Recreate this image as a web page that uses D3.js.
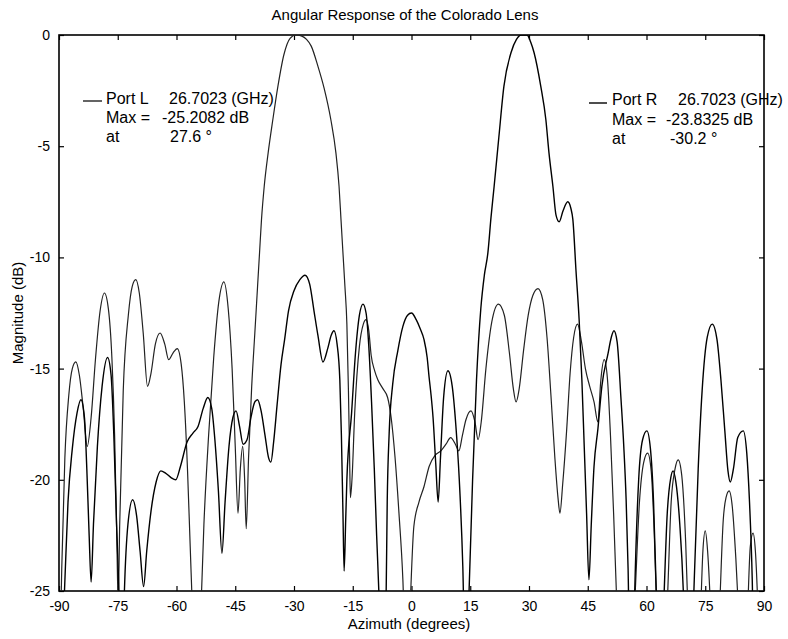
<!DOCTYPE html>
<html><head><meta charset="utf-8">
<script src="https://cdn.jsdelivr.net/npm/d3@7"></script>
<style>
body{margin:0;background:#fff}
svg text{font-family:"Liberation Sans",Arial,Helvetica,sans-serif;fill:#000}
</style>
</head><body>
<svg id="chart" width="788" height="639"></svg>
<script>
// ---------- data ----------
const chartTitle = "Angular Response of the Colorado Lens";
const xLabel = "Azimuth (degrees)";
const yLabel = "Magnitude (dB)";
const xTickValues = [-90, -75, -60, -45, -30, -15, 0, 15, 30, 45, 60, 75, 90];
const yTickValues = [0, -5, -10, -15, -20, -25];

const portLAz = [-90,-89.3,-88.5,-87.5,-86.6,-85.7,-84.8,-83.8,-82.8,-81.8,-80.7,-79.5,-78.4,-77.4,-76.5,-75.8,-75.2,-74.9,-74.5,-73.6,-72.3,-71.3,-70.4,-69.5,-68.5,-67.4,-66.5,-65.4,-64.2,-63,-62,-60.9,-59.8,-58.8,-58,-57.2,-56.5,-55.8,-55,-54,-53,-51.8,-50.5,-49.2,-47.9,-46.8,-45.8,-45,-44.3,-43.7,-43.1,-42.6,-42.2,-41.6,-40.8,-40,-39.3,-38.8,-38.3,-37.6,-36.6,-35.4,-34.1,-32.6,-31,-29.5,-28,-26.8,-25.6,-23.9,-22.3,-20.6,-19.3,-18.5,-18,-17.5,-17,-16.5,-16.1,-15.8,-15.6,-15.2,-14.5,-13.3,-12.3,-11.6,-10.9,-10.3,-9.4,-8.6,-7.3,-6.1,-5.2,-4.2,-3.2,-2.2,-1.2,-0.3,0.6,1.9,3.2,4.5,6,7.5,8.8,10,11.2,12.1,13,13.9,15.2,16.2,17,17.8,19,20.5,22.2,23.7,25,26,26.7,27.5,28.6,29.8,31,32.3,33.5,34.6,35.6,36.6,37.4,37.9,38.6,39.6,40.5,41.4,42.4,43.4,44.4,45.5,46.6,47.6,48.3,49.2,50,50.8,51.6,52.3,53.2,55.5,57,58.2,59.3,60.3,61.2,62,62.8,63.6,65.2,66.3,67.3,68.1,69,70,70.8,72,73.8,74.4,75,75.6,76.4,77.2,78.6,79.6,80.3,81.1,81.9,82.8,83.8,84.8,85.8,86.5,87.2,87.8,88.5,89.2,90];
const portLdB = [-30,-24,-19,-16.2,-15,-14.7,-15.3,-16.8,-18.5,-17.2,-14.6,-12.4,-11.6,-12.3,-14.5,-18,-23,-25.5,-22,-16,-12.6,-11.3,-11,-11.6,-13.4,-15.8,-15.2,-13.9,-13.4,-13.9,-14.6,-14.3,-14.1,-14.8,-16.5,-19.5,-23,-26.5,-30,-27,-22,-18,-14.5,-12,-11.1,-12.3,-15,-18.5,-21.5,-19.5,-18.5,-20,-22.2,-19,-15.8,-13.4,-11.3,-9.8,-8.3,-6.8,-5.3,-3.8,-2.3,-0.9,-0.15,0,-0.05,-0.2,-0.5,-1.4,-2.4,-3.8,-5.3,-6.8,-8.3,-9.8,-11.3,-13,-16,-19,-20.8,-20,-17,-14,-13,-12.8,-13.3,-14.4,-15.1,-15.5,-15.9,-16.3,-17.2,-19,-21.5,-24.5,-30,-25.5,-22.1,-21,-20.3,-19.4,-18.9,-18.7,-18.4,-18.1,-18.4,-18.7,-18,-17.3,-16.9,-17.4,-18.2,-17.4,-15,-12.9,-12.1,-12.6,-14.3,-15.9,-16.5,-15.9,-14.2,-12.6,-11.7,-11.4,-11.9,-13.6,-16.2,-19,-20.8,-21.5,-20.2,-17.8,-15.2,-13.6,-13,-13.8,-15,-15.8,-16.5,-17.4,-15.6,-14.6,-15.4,-18,-21.5,-25,-30,-30,-25.5,-21,-19.2,-18.8,-19.6,-22.5,-27,-30,-26,-21,-19.5,-19.1,-19.8,-22.8,-27,-30,-26,-23.2,-22.3,-23.2,-26,-30,-26,-21.8,-20.8,-20.5,-21.2,-23.5,-27,-30,-26,-23,-22.4,-23.2,-26,-30,-30];

const portRAz = [-90,-88.6,-87.7,-86.6,-85.4,-84.4,-83.5,-82.9,-82.3,-81.8,-81.2,-80.2,-79,-77.6,-76.7,-76,-75.3,-74.6,-74,-73.3,-72.4,-71.2,-70.2,-69.3,-68.4,-67.6,-66.5,-65.2,-64,-62.8,-61.4,-60.2,-59,-57.3,-55.8,-54.5,-53.2,-52,-51,-50.2,-49.3,-48.4,-47.6,-46.6,-45.6,-44.8,-43.9,-43,-42,-41,-40,-39.3,-38.4,-37.4,-36.5,-35.9,-35.2,-34.3,-33.3,-32.4,-31.4,-30,-28.5,-27.2,-26,-24.9,-23.9,-22.6,-21.4,-20.5,-19.8,-19,-18.3,-17.9,-17.5,-17.2,-16.8,-16.5,-15.3,-14.3,-13.3,-12.4,-11.6,-10.9,-10.2,-9.5,-8.9,-8.3,-7.5,-6.5,-6.2,-5.7,-4.8,-3.5,-2.2,-1,0,1.2,2.2,3.2,4,4.5,5,5.5,6.2,6.8,7.4,8.2,9.3,10.4,11.3,12.2,13.1,13.9,14.7,15.6,16.6,17.7,18.6,19.5,20.3,21.1,22.3,23.6,25.4,26.8,28,29.5,30.4,31.3,33,34.3,35.1,36.1,36.9,37.7,38.7,39.9,40.7,41.2,42,42.8,43.5,44.1,44.7,45.3,45.9,46.6,47.6,48.6,50.2,51,51.7,52.5,53.5,54.2,54.8,55.3,55.9,56.4,57,58,59,60.1,61,61.8,62.5,63.2,64.3,65.3,66.2,66.8,67.5,68.5,69.4,70.2,71.2,72.1,73.2,74.2,75.5,76.8,78,79,80,80.8,81.4,82.2,83.3,84.7,85.6,86.3,87,87.6,88.5,89.2,90];
const portRdB = [-30,-25,-21,-18.6,-17,-16.4,-17.2,-19.5,-22.5,-24.6,-22,-18.5,-15.8,-14.5,-15.3,-18,-22,-25.5,-30,-25,-22,-20.9,-21.6,-23.2,-24.8,-23.2,-21.4,-20.1,-19.6,-19.7,-19.9,-20,-19.4,-18.3,-17.9,-17.6,-16.8,-16.3,-16.8,-18.2,-20.5,-23.3,-21,-18.5,-17.2,-16.9,-17.6,-18.4,-18.2,-17.2,-16.5,-16.4,-16.9,-18,-19,-19.2,-18.3,-16.6,-14.8,-13.7,-12.4,-11.5,-11,-10.8,-11.2,-12.4,-13.5,-14.7,-14.1,-13.5,-13.3,-13.9,-15.5,-18,-21.5,-24.1,-21.8,-20,-17,-14.3,-12.6,-12.1,-12.5,-14,-16.5,-19.5,-22.5,-25.2,-30,-25.5,-21,-17.9,-15.7,-14.2,-13.1,-12.6,-12.5,-12.8,-13.2,-13.7,-14.5,-15.4,-16.2,-17.2,-19.3,-21,-19,-16.3,-15.1,-15.8,-17.5,-20,-23.9,-30,-25,-20,-15.5,-12.3,-10.8,-9.8,-8.2,-6.8,-4.6,-2.3,-0.8,-0.2,0,0,-0.3,-0.8,-2.3,-3.8,-5.3,-6.8,-8.1,-8.4,-7.9,-7.5,-7.8,-8.3,-10.6,-12.8,-15.5,-18.5,-21.5,-24.5,-22,-19.4,-17.7,-15.8,-14.3,-13.6,-13.3,-13.8,-16.4,-18.5,-20.9,-24,-30,-30,-25,-20,-18.2,-17.8,-18.6,-21,-25,-30,-26,-21.5,-19.9,-19.6,-20.1,-22,-25,-30,-30,-25,-19.5,-16,-13.6,-13,-13.7,-15.5,-17.8,-19.6,-20.1,-19.5,-18.1,-17.8,-18.8,-21,-24.5,-30,-30,-27,-25];

const legendLRows = [["Port L", "26.7023 (GHz)"], ["Max =", "-25.2082 dB"], ["at", "27.6 \u00B0"]];
const legendRRows = [["Port R", "26.7023 (GHz)"], ["Max =", "-23.8325 dB"], ["at", "-30.2 \u00B0"]];

// ---------- layout ----------
const plot = {left: 59, right: 764, top: 35, bottom: 591};

const svg = d3.select("#chart");
const x = d3.scaleLinear().domain([-90, 90]).range([plot.left, plot.right]);
const y = d3.scaleLinear().domain([-25, 0]).range([plot.bottom, plot.top]);

svg.append("defs").append("clipPath").attr("id", "clip")
  .append("rect").attr("x", plot.left).attr("y", plot.top)
  .attr("width", plot.right - plot.left).attr("height", plot.bottom - plot.top);

const fmt = d => String(d);

// axes (inward ticks, MATLAB box style)
const gx = svg.append("g").attr("transform", `translate(0,${plot.bottom})`)
  .call(d3.axisBottom(x).tickValues(xTickValues).tickFormat(fmt).tickSize(-5).tickPadding(10));
const gxTop = svg.append("g").attr("transform", `translate(0,${plot.top})`)
  .call(d3.axisTop(x).tickValues(xTickValues).tickFormat("").tickSize(-5));
const gy = svg.append("g").attr("transform", `translate(${plot.left},0)`)
  .call(d3.axisLeft(y).tickValues(yTickValues).tickFormat(fmt).tickSize(-5).tickPadding(9));
const gyR = svg.append("g").attr("transform", `translate(${plot.right},0)`)
  .call(d3.axisRight(y).tickValues(yTickValues).tickFormat("").tickSize(-5));

[gx, gxTop, gy, gyR].forEach(g => {
  g.select(".domain").remove();
  g.selectAll(".tick line").attr("stroke", "#000").attr("stroke-width", 1.2);
  g.selectAll(".tick text").attr("font-size", 14).attr("fill", "#000")
    .attr("font-family", "Liberation Sans, Arial, sans-serif");
});

// frame
svg.append("rect").attr("x", plot.left).attr("y", plot.top)
  .attr("width", plot.right - plot.left).attr("height", plot.bottom - plot.top)
  .attr("fill", "none").attr("stroke", "#000").attr("stroke-width", 1.6);

// curves
const line = d3.line().x(d => x(d[0])).y(d => y(d[1])).curve(d3.curveMonotoneX);
const portL = portLAz.map((a, i) => [a, portLdB[i]]);
const portR = portRAz.map((a, i) => [a, portRdB[i]]);

const curves = svg.append("g").attr("clip-path", "url(#clip)");
curves.append("path").datum(portL).attr("d", line)
  .attr("fill", "none").attr("stroke", "#222").attr("stroke-width", 1.2);
curves.append("path").datum(portR).attr("d", line)
  .attr("fill", "none").attr("stroke", "#000").attr("stroke-width", 1.4);

// title and axis labels
svg.append("text").attr("x", 405).attr("y", 20).attr("text-anchor", "middle")
  .attr("font-size", 15).text(chartTitle);
svg.append("text").attr("x", 409).attr("y", 629).attr("text-anchor", "middle")
  .attr("font-size", 15).text(xLabel);
svg.append("text").attr("transform", "translate(23,313) rotate(-90)")
  .attr("text-anchor", "middle").attr("font-size", 15).text(yLabel);

// legends (annotation boxes)
function legend(rows, lx0, lx1, ly, tx, cx, baselines, stroke) {
  svg.append("line").attr("x1", lx0).attr("x2", lx1).attr("y1", ly).attr("y2", ly)
    .attr("stroke", stroke).attr("stroke-width", 1.4);
  rows.forEach((r, i) => {
    svg.append("text").attr("x", tx).attr("y", baselines[i]).attr("font-size", 16).text(r[0]);
    svg.append("text").attr("x", cx[i]).attr("y", baselines[i]).attr("font-size", 16).text(r[1]);
  });
}
legend(legendLRows, 83, 102, 101, 106, [169, 162, 170], [104, 123, 142], "#222");
legend(legendRRows, 589, 607, 103, 612, [678, 666, 670], [105, 125, 144], "#000");
</script>
</body></html>
